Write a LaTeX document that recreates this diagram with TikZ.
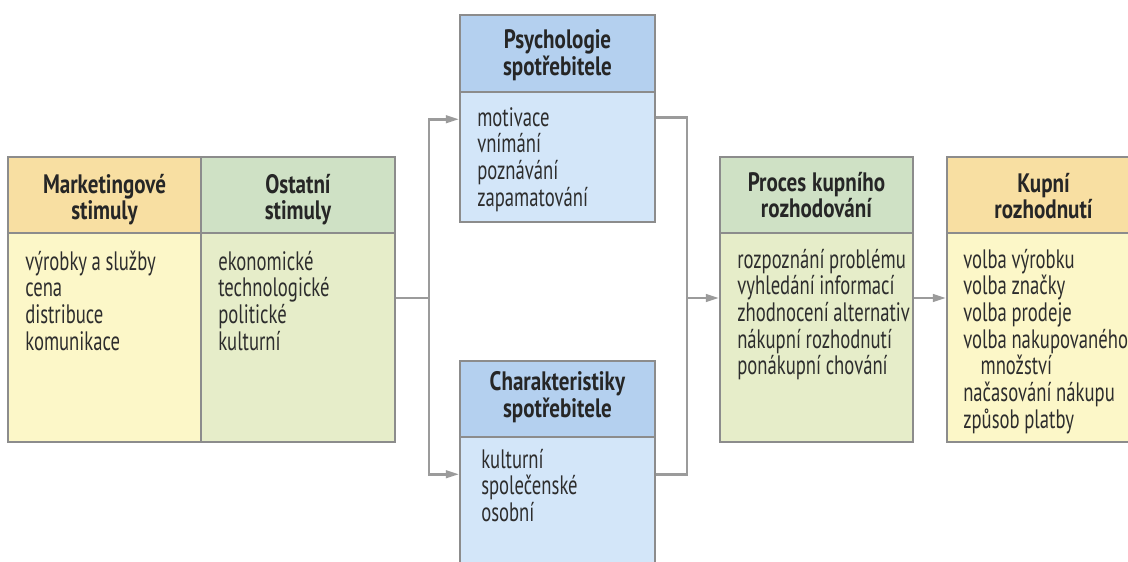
\documentclass[tikz,border=0pt]{standalone}
\usepackage{fontspec}
\setmainfont{PT Sans}[FakeStretch=0.70, BoldFeatures={FakeStretch=0.79}]
\usetikzlibrary{fit,arrows.meta}
\definecolor{orH}{RGB}{248,223,162}
\definecolor{orB}{RGB}{252,247,200}
\definecolor{grH}{RGB}{207,225,197}
\definecolor{grB}{RGB}{230,237,201}
\definecolor{blH}{RGB}{180,208,239}
\definecolor{blB}{RGB}{211,230,249}
\definecolor{edgegray}{RGB}{140,140,140}
\definecolor{conngray}{RGB}{155,155,155}
\definecolor{ink}{RGB}{45,45,45}
\tikzset{
  box/.style={draw=edgegray, line width=1.1pt, inner sep=0pt, rectangle},
  htxt/.style={anchor=base, inner sep=0pt, text width=140pt, align=center, text=black!85,
               font={\fontsize{20}{20}\selectfont\bfseries},
               execute at begin node={\spaceskip=4pt plus 1pt minus 1pt\relax}},
  txt/.style={anchor=base west, inner sep=0pt, text width=135pt, align=left, text=ink,
              font={\fontsize{20}{20}\selectfont},
              execute at begin node={\spaceskip=3.5pt plus 1pt minus 1pt\relax}},
  cline/.style={draw=conngray, line width=2.1pt, line join=miter},
  carrow/.style={cline, -{Triangle[length=10pt,width=5.5pt]}}
}
\begin{document}
\begin{tikzpicture}[x=0.75pt,y=-0.75pt]
\clip (0,0) rectangle (1128,561);
\fill[white] (0,0) rectangle (1128,561);
% left group
\node[box, fill=orB, fit={(8,233) (201,442)}] (mb) {};
\node[box, fill=grB, fit={(201,233) (395,442)}] (ob) {};
\node[box, fill=orH, fit={(8,157) (201,233)}] (mh) {};
\node[box, fill=grH, fit={(201,157) (395,233)}] (oh) {};
\node[htxt] (mht) at ([yshift=1.5pt]mh.center) {Marketingové\\stimuly};
\node[htxt] (oht) at ([yshift=1.5pt]oh.center) {Ostatní\\stimuly};
\node[txt] (mt) at (25,270) {výrobky a služby\\cena\\distribuce\\komunikace};
\node[txt] (ot) at (218,270) {ekonomické\\technologické\\politické\\kulturní};
% psychologie
\node[box, fill=blB, fit={(460,92) (655,222)}] (pb) {};
\node[box, fill=blH, fit={(460,15) (655,92)}] (ph) {};
\node[htxt] (pht) at ([yshift=3.4pt]ph.center) {Psychologie\\spotřebitele};
\node[txt] (pt) at (477,126) {motivace\\vnímání\\poznávání\\zapamatování};
% charakteristiky
\node[box, fill=blB, fit={(460,437) (655,600)}] (cb) {};
\node[box, fill=blH, fit={(460,361) (655,437)}] (ch) {};
\node[htxt] (cht) at ([yshift=6.5pt]ch.center) {Charakteristiky\\spotřebitele};
\node[txt] (ct) at (481,468) {kulturní\\společenské\\osobní};
% proces
\node[box, fill=grB, fit={(720,233) (913,442)}] (prb) {};
\node[box, fill=grH, fit={(720,157) (913,233)}] (prh) {};
\node[htxt] (prht) at ([yshift=3pt]prh.center) {Proces kupního\\rozhodování};
\node[txt] (prt) at (737,268) {rozpoznání problému\\vyhledání informací\\zhodnocení alternativ\\nákupní rozhodnutí\\ponákupní chování};
% kupni
\node[box, fill=orB, fit={(947,233) (1140,442)}] (kb) {};
\node[box, fill=orH, fit={(947,157) (1140,233)}] (kh) {};
\node[htxt] (kht) at ([yshift=2.25pt]kh.center) {Kupní\\rozhodnutí};
\node[txt] (kt) at (963,268) {volba výrobku\\volba značky\\volba prodeje\\volba nakupovaného\\\hspace*{13pt}množství\\načasování nákupu\\způsob platby};
% connectors
\coordinate (jl) at (429,298);
\coordinate (jr) at (687,298);
\draw[cline] (ob.east |- jl) -- (jl);
\draw[carrow] (jl) |- ([yshift=-21pt]pb.north west);
\draw[carrow] (jl) |- ([yshift=-28.5pt]cb.north west);
\draw[cline] ([yshift=-19.5pt]pb.north east) -| (jr);
\draw[cline] ([yshift=-28.5pt]cb.north east) -| (jr);
\draw[carrow] (jr) -- (prb.west |- jr);
\draw[carrow] (prb.east |- jr) -- (kb.west |- jr);
\end{tikzpicture}
\end{document}
